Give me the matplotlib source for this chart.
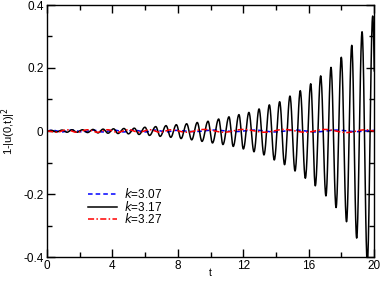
import numpy as np
import matplotlib
matplotlib.use("Agg")
import matplotlib.pyplot as plt
from matplotlib.ticker import MultipleLocator, FuncFormatter

plt.rcParams['font.family'] = ['Liberation Sans', 'DejaVu Sans']
plt.rcParams['axes.unicode_minus'] = False

# turning points (t, value), k=3.17
t_k317 = [0.0, 0.28, 0.58, 0.92, 1.22, 1.53, 1.83, 2.17, 2.48, 2.81, 3.12, 3.43, 3.73,
          4.07, 4.34, 4.71, 4.98, 5.34, 5.63, 5.99, 6.27, 6.65, 6.92, 7.28, 7.57,
          7.91, 8.20, 8.54, 8.85, 9.19, 9.48, 9.85, 10.12, 10.50, 10.76, 11.13,
          11.39, 11.74, 12.01, 12.35, 12.66, 12.97, 13.27, 13.60, 13.90, 14.23,
          14.53, 14.86, 15.17, 15.49, 15.80, 16.13, 16.41, 16.74, 17.06, 17.37,
          17.68, 18.00, 18.32, 18.64, 18.94, 19.27, 19.59, 19.92, 20.24]
v_k317 = [0.0, 0.002, -0.003, 0.003, -0.004, 0.004, -0.004, 0.004, -0.005, 0.005, -0.006,
          0.006, -0.007, 0.007, -0.008, 0.008, -0.009, 0.009, -0.011, 0.012, -0.014,
          0.014, -0.017, 0.017, -0.020, 0.020, -0.024, 0.023, -0.028, 0.027, -0.033,
          0.031, -0.038, 0.038, -0.043, 0.045, -0.049, 0.052, -0.057, 0.059, -0.066,
          0.070, -0.076, 0.083, -0.092, 0.093, -0.107, 0.111, -0.127, 0.128, -0.150,
          0.150, -0.174, 0.175, -0.206, 0.202, -0.243, 0.234, -0.288, 0.272, -0.340,
          0.315, -0.420, 0.365, -0.480]

# k=3.07 (blue) and k=3.27 (red) stay close to zero
t_k307 = [0.0, 0.3, 0.9, 1.5, 2.2, 2.8, 3.4, 4.1, 4.7, 5.3, 6.0, 6.6, 7.3, 7.9,
          9.0, 10.2, 11.5, 12.7, 13.9, 15.2, 16.4, 17.7, 18.9, 20.0]
v_k307 = [0.0, 0.003, -0.003, 0.003, -0.003, 0.003, -0.003, 0.003, -0.003, 0.003,
          -0.003, 0.003, -0.003, 0.002, -0.002, 0.003, -0.002, 0.003, -0.003, 0.003,
          -0.003, 0.003, -0.002, 0.002]
t_k327 = [0.0, 0.6, 1.2, 1.8, 2.5, 3.1, 3.7, 4.3, 5.0, 5.6, 6.3, 6.9, 7.6, 8.5,
          9.6, 10.8, 12.0, 13.3, 14.5, 15.8, 17.0, 18.3, 19.5, 20.0]
v_k327 = [0.0, -0.004, 0.004, -0.004, 0.004, -0.004, 0.004, -0.004, 0.004, -0.004,
          0.004, -0.004, 0.004, -0.004, 0.005, -0.004, 0.005, -0.004, 0.005, -0.004,
          0.005, -0.005, 0.004, 0.0]

labels = ['3.07', '3.17', '3.27']


def smooth(ts, vs, n=20):
    # half-cosine join between neighbouring turning points
    xs, ys = [], []
    for i in range(len(ts) - 1):
        s = np.linspace(0, 1, n, endpoint=False)
        w = (1 - np.cos(np.pi * s)) / 2
        xs.append(ts[i] + (ts[i + 1] - ts[i]) * s)
        ys.append(vs[i] + (vs[i + 1] - vs[i]) * w)
    xs.append([ts[-1]])
    ys.append([vs[-1]])
    return np.concatenate(xs), np.concatenate(ys)


fig = plt.figure(figsize=(3.82, 2.82), dpi=100)
ax = fig.add_axes([47 / 382, 1 - 257 / 282, 327 / 382, 252 / 282])

x, y = smooth(t_k307, v_k307)
ax.plot(x, y, color='#0000ff', lw=1.1, ls=(0, (3, 2)), label=r'$k$=' + labels[0])
x, y = smooth(t_k317, v_k317)
ax.plot(x, y, color='black', lw=1.1, label=r'$k$=' + labels[1])
x, y = smooth(t_k327, v_k327)
ax.plot(x, y, color='#ff0000', lw=1.1, ls=(0, (4, 1.5, 1, 1.5)), label=r'$k$=' + labels[2])

ax.set_xlim(0, 20)
ax.set_ylim(-0.4, 0.4)
ax.xaxis.set_major_locator(MultipleLocator(4))
ax.xaxis.set_minor_locator(MultipleLocator(2))
ax.yaxis.set_major_locator(MultipleLocator(0.2))
ax.yaxis.set_minor_locator(MultipleLocator(0.1))
ax.yaxis.set_major_formatter(FuncFormatter(lambda v, p: '0' if abs(v) < 1e-9 else '%.1f' % v))
ax.tick_params(which='both', direction='in', top=True, right=True, labelsize=8.5, width=1.0)
ax.tick_params(which='major', length=6, pad=2.5)
ax.tick_params(which='minor', length=3.5)
for s in ax.spines.values():
    s.set_linewidth(1.0)

ax.set_xlabel('t', fontsize=7.5)
ax.xaxis.set_label_coords(0.5, -0.045)
ax.set_ylabel(r'1-|u(0,t)|$^2$', fontsize=8)
ax.yaxis.set_label_coords(-0.09, 0.5)

ax.legend(loc='upper left', bbox_to_anchor=(0.125, 0.277), frameon=False, fontsize=8.5,
          handlelength=2.5, handletextpad=0.55, labelspacing=-0.12, borderpad=0, borderaxespad=0)

fig.savefig('out.png', dpi=100)
